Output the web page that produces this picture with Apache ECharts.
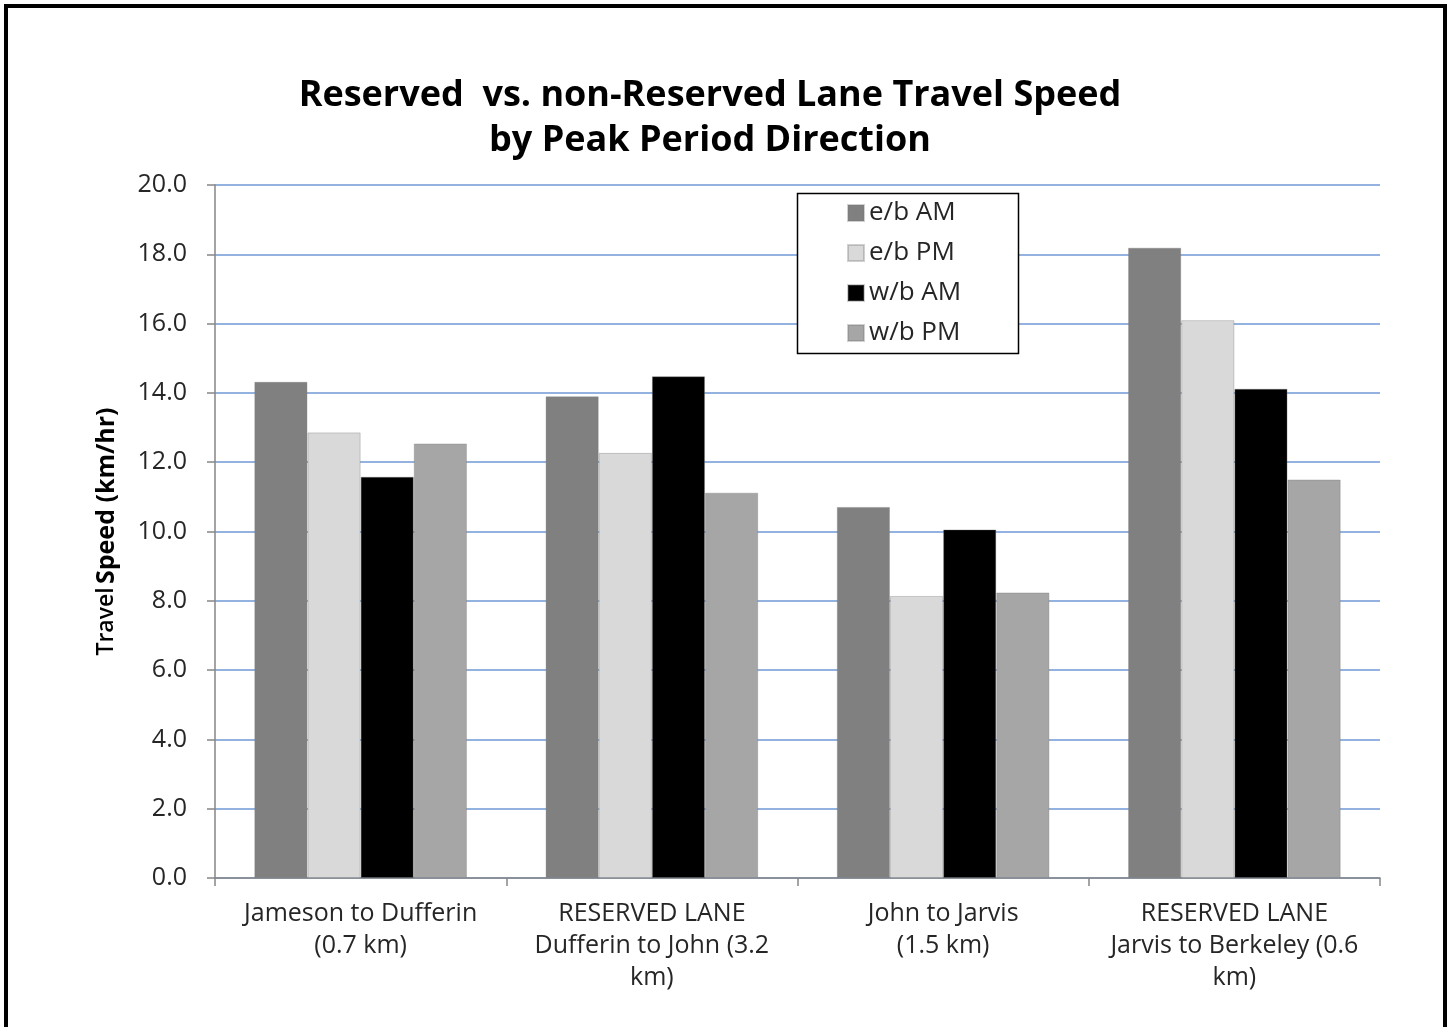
<!DOCTYPE html>
<html>
<head>
<meta charset="utf-8">
<script src="https://cdn.jsdelivr.net/npm/echarts@6/dist/echarts.min.js"></script>
<style>
  html, body { margin: 0; padding: 0; background: #fff; }
  #chart { width: 1450px; height: 1027px; }
</style>
</head>
<body>
<div id="chart"></div>
<script>
// Road segments along the corridor
const categories = [
  'Jameson to Dufferin\n(0.7 km)',
  'RESERVED LANE\nDufferin to John (3.2\nkm)',
  'John to Jarvis\n(1.5 km)',
  'RESERVED LANE\nJarvis to Berkeley (0.6\nkm)'
];

// Average travel speed (km/hr) by peak period direction
const ebAM = [14.32, 13.90, 10.71, 18.19];
const ebPM = [12.86, 12.27, 8.14, 16.10];
const wbAM = [11.58, 14.48, 10.06, 14.12];
const wbPM = [12.54, 11.12, 8.24, 11.50];

const seriesNames = ['e/b AM', 'e/b PM', 'w/b AM', 'w/b PM'];
const seriesColors = ['#808080', '#d9d9d9', '#000000', '#a6a6a6'];
const seriesData = [ebAM, ebPM, wbAM, wbPM];

const FONT = '"Open Sans", "Noto Sans", sans-serif';

const chart = echarts.init(document.getElementById('chart'), null, { renderer: 'canvas' });

chart.setOption({
  backgroundColor: '#ffffff',
  animation: false,
  title: {
    text: 'Reserved  vs. non-Reserved Lane Travel Speed\nby Peak Period Direction',
    left: 705,
    textAlign: 'center',
    top: 68,
    textStyle: {
      fontFamily: FONT,
      fontWeight: 'bold',
      fontSize: 36,
      lineHeight: 45,
      color: '#000'
    }
  },
  legend: {
    data: seriesNames,
    orient: 'vertical',
    left: 842,
    top: 195,
    z: 20,
    itemWidth: 16,
    itemHeight: 16,
    itemGap: 14,
    icon: 'rect',
    textStyle: {
      fontFamily: FONT,
      fontSize: 26,
      lineHeight: 26,
      color: '#262626'
    }
  },
  grid: {
    left: 215,
    right: 70,
    top: 185,
    bottom: 149,
    containLabel: false
  },
  xAxis: {
    type: 'category',
    data: categories,
    axisLine: { lineStyle: { color: '#868686', width: 1.5 } },
    axisTick: { show: true, length: 8, alignWithLabel: false, lineStyle: { color: '#868686', width: 1.5 } },
    axisLabel: {
      interval: 0,
      margin: 20,
      fontFamily: FONT,
      fontSize: 25,
      lineHeight: 32,
      color: '#262626',
      align: 'center'
    },
    splitLine: { show: false }
  },
  yAxis: {
    type: 'value',
    min: 0,
    max: 20,
    interval: 2,
    name: '{a|Travel} {b|Speed (km/hr)}',
    nameLocation: 'middle',
    nameGap: 96,
    nameRotate: 90,
    nameTextStyle: {
      rich: {
        a: { fontFamily: FONT, fontWeight: 600, fontSize: 23, color: '#000' },
        b: { fontFamily: FONT, fontWeight: 'bold', fontSize: 25, color: '#000' }
      }
    },
    axisLine: { show: true, lineStyle: { color: '#868686', width: 1.5 } },
    axisTick: { show: true, inside: false, length: 8, lineStyle: { color: '#868686', width: 1.5 } },
    axisLabel: {
      margin: 28,
      fontFamily: FONT,
      fontSize: 25,
      color: '#262626',
      formatter: v => v.toFixed(1)
    },
    splitLine: { show: true, lineStyle: { color: '#6f98d4', width: 1.5 } }
  },
  series: seriesNames.map((name, i) => ({
    name: name,
    type: 'bar',
    data: seriesData[i],
    barGap: '0%',
    barCategoryGap: '27%',
    itemStyle: {
      color: seriesColors[i],
      borderColor: 'rgba(120,120,120,0.35)',
      borderWidth: 1
    },
    emphasis: { disabled: true }
  })),
  graphic: [
    {
      // outer frame around the figure
      type: 'rect',
      z: 100,
      shape: { x: 6, y: 6, width: 1439, height: 1100 },
      style: { fill: 'none', stroke: '#000', lineWidth: 4 },
      silent: true
    },
    {
      // legend box
      type: 'rect',
      z: 5,
      shape: { x: 797.5, y: 193.5, width: 221, height: 160 },
      style: { fill: '#fff', stroke: '#000', lineWidth: 1.5 },
      silent: true
    }
  ]
});
</script>
</body>
</html>
